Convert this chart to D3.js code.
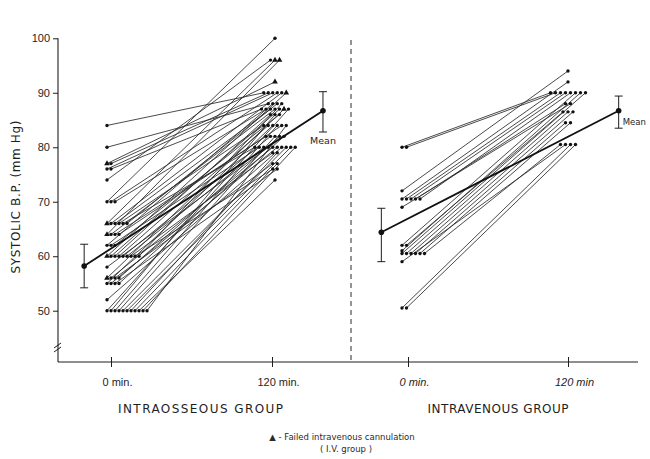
<!DOCTYPE html>
<html>
<head>
<meta charset="utf-8">
<script src="https://cdn.jsdelivr.net/npm/d3@7"></script>
<style>
  body { margin: 0; background: #fff; }
  svg { display: block; font-family: "DejaVu Sans", "Liberation Sans", sans-serif; }
  .pair { stroke: #2a2a2a; stroke-width: 0.85; fill: none; }
  .axis text { fill: #1e1e1e; font-size: 11px; }
  .axis line { stroke: #1e1e1e; stroke-width: 1; }
</style>
</head>
<body>
<div id="chart"></div>
<script>
// Systolic BP (mm Hg) at 0 min and 120 min, one entry per patient
const ioStart = [84, 80, 77, 77, 76, 76, 74, 70, 70, 70, 66, 66, 66, 66, 66, 64, 64, 64, 62, 62,
                 60, 60, 60, 60, 60, 60, 60, 60, 58, 56, 56, 56, 55, 55, 55, 52, 50, 50, 50, 50,
                 50, 50, 50, 50, 50, 66, 64, 62, 60, 56, 55, 50, 50];
const ioEnd   = [90, 88, 92, 90, 90, 87, 96, 100, 90, 87, 96, 90, 87, 84, 80, 96, 87, 82, 88, 80,
                 90, 87, 86, 84, 82, 80, 79, 76, 80, 87, 80, 77, 84, 80, 76, 80, 87, 86, 84, 82,
                 80, 80, 79, 77, 74, 88, 84, 86, 88, 82, 82, 80, 84];
// patients marked with a triangle (failed intravenous cannulation)
const ioFailed = [2, 10, 15, 20, 29];

const ivStart = [80, 80, 72, 70.5, 70.5, 70.5, 70.5, 70.5, 69, 62, 62, 61, 60.5, 60.5, 60.5, 60.5,
                 60.5, 60.5, 59, 50.5, 50.5];
const ivEnd   = [90, 90, 94, 92, 90, 90, 88, 90, 88, 90, 86.5, 90, 90, 86.5, 86.5, 84.5, 84.5,
                 80.5, 80.5, 80.5, 80.5];

// group means with bars, drawn beside the time points
const meanTimes = [-20, 158];
const ioMean = [58.2, 86.7], ioLow = [54.2, 82.8], ioHigh = [62.2, 90.2];
const ivMean = [64.4, 86.7], ivLow = [59.0, 83.5], ivHigh = [68.8, 89.4];

const yTicks = [50, 60, 70, 80, 90, 100];
const timeTicks = [0, 120];
const ioTimeLabels = ['0 min.', '120 min.'];
const ivTimeLabels = ['0 min.', '120 min'];

const width = 650, height = 459;
const axisX = 58, axisY = 362, divider = 351;

const svg = d3.select('#chart').append('svg')
    .attr('width', width)
    .attr('height', height);

const y = d3.scaleLinear().domain([50, 100]).range([310.7, 38.3]);
const ioX = d3.scaleLinear().domain([0, 120]).range([111, 272]);
const ivX = d3.scaleLinear().domain([0, 120]).range([408, 568]);

// side-by-side placement of equal readings
function rowIndex(vals) {
    const seen = new Map();
    return vals.map(v => { const k = seen.get(v) || 0; seen.set(v, k + 1); return k; });
}
function rowSize(vals) {
    const c = d3.rollup(vals, g => g.length, v => v);
    return vals.map(v => c.get(v));
}

function pairs(start, end, x, startPos, endPos) {
    const si = rowIndex(start), ei = rowIndex(end);
    const sn = rowSize(start), en = rowSize(end);
    return start.map((s, i) => ({
        i,
        x1: startPos(x(0), si[i], sn[i]), y1: y(s),
        x2: endPos(x(120), ei[i], en[i]), y2: y(end[i])
    }));
}

const ioData = pairs(ioStart, ioEnd, ioX,
    (t, k) => t - 4 + k * 4,
    (t, k, n) => t + 3 + (k - (n - 1) / 2) * 4.5);
const ivData = pairs(ivStart, ivEnd, ivX,
    (t, k) => t - 6 + k * 4.5,
    (t, k, n) => t + (k - (n - 1) / 2) * 5);

function drawGroup(data, failed) {
    const g = svg.append('g');
    g.selectAll('line.pair').data(data).enter().append('line')
        .attr('class', 'pair')
        .attr('x1', d => d.x1).attr('y1', d => d.y1)
        .attr('x2', d => d.x2).attr('y2', d => d.y2);
    const ends = data.flatMap(d => [
        { x: d.x1, y: d.y1, tri: failed.includes(d.i) },
        { x: d.x2, y: d.y2, tri: failed.includes(d.i) }
    ]);
    g.selectAll('.pt').data(ends).enter().append('path')
        .attr('class', 'pt')
        .attr('transform', d => `translate(${d.x},${d.y})`)
        .attr('d', d => d3.symbol().type(d.tri ? d3.symbolTriangle : d3.symbolCircle).size(d.tri ? 14 : 9)())
        .attr('fill', '#111');
}
drawGroup(ioData, ioFailed);
drawGroup(ivData, []);

function drawMean(x, mean, low, high, labelPos) {
    const g = svg.append('g');
    const pts = meanTimes.map((t, k) => ({ x: x(t), m: mean[k], lo: low[k], hi: high[k] }));
    g.append('line')
        .attr('x1', pts[0].x).attr('y1', y(pts[0].m))
        .attr('x2', pts[1].x).attr('y2', y(pts[1].m))
        .attr('stroke', '#111').attr('stroke-width', 1.8);
    pts.forEach(p => {
        g.append('line').attr('x1', p.x).attr('x2', p.x).attr('y1', y(p.lo)).attr('y2', y(p.hi))
            .attr('stroke', '#1e1e1e').attr('stroke-width', 1);
        [p.lo, p.hi].forEach(v => g.append('line')
            .attr('x1', p.x - 4).attr('x2', p.x + 4).attr('y1', y(v)).attr('y2', y(v))
            .attr('stroke', '#1e1e1e').attr('stroke-width', 1));
        g.append('circle').attr('cx', p.x).attr('cy', y(p.m)).attr('r', 2.8).attr('fill', '#111');
    });
    const last = pts[1];
    const below = labelPos === 'below';
    g.append('text')
        .attr('x', below ? last.x : last.x + 4)
        .attr('y', below ? y(last.lo) + 12 : y(last.m) + 14)
        .attr('text-anchor', below ? 'middle' : 'start')
        .attr('font-size', below ? 9.5 : 8.5).attr('fill', '#1e1e1e')
        .text('Mean');
}
drawMean(ioX, ioMean, ioLow, ioHigh, 'below');
drawMean(ivX, ivMean, ivLow, ivHigh, 'right');

// y axis
const yAxis = svg.append('g').attr('class', 'axis')
    .attr('transform', `translate(${axisX},0)`)
    .call(d3.axisLeft(y).tickValues(yTicks).tickSize(5).tickPadding(3));
yAxis.select('.domain').remove();
svg.append('line').attr('x1', axisX).attr('x2', axisX).attr('y1', y(100)).attr('y2', axisY)
    .attr('stroke', '#1e1e1e').attr('stroke-width', 1.1);
// axis break
[0, 4].forEach(o => svg.append('line')
    .attr('x1', axisX - 4).attr('y1', axisY - 14 + o)
    .attr('x2', axisX + 3).attr('y2', axisY - 19 + o)
    .attr('stroke', '#1e1e1e').attr('stroke-width', 1));

svg.append('text')
    .attr('transform', `translate(20,197) rotate(-90)`)
    .attr('text-anchor', 'middle')
    .attr('font-size', 12).attr('fill', '#1e1e1e')
    .attr('textLength', 153).attr('lengthAdjust', 'spacing')
    .text('SYSTOLIC  B.P.  (mm Hg)');

// x axis
svg.append('line').attr('x1', axisX).attr('x2', 638).attr('y1', axisY).attr('y2', axisY)
    .attr('stroke', '#1e1e1e').attr('stroke-width', 1.1);

function timeAxis(x, labels, italic) {
    const g = svg.append('g').attr('class', 'axis')
        .attr('transform', `translate(0,${axisY})`)
        .call(d3.axisBottom(x).tickValues(timeTicks).tickSize(5).tickPadding(11)
            .tickFormat((d, i) => labels[i]));
    g.select('.domain').remove();
    g.selectAll('.tick line').attr('y1', -5);
    g.selectAll('.tick text').attr('dx', 6).attr('font-style', italic ? 'italic' : null);
}
timeAxis(ioX, ioTimeLabels, false);
timeAxis(ivX, ivTimeLabels, true);

// divider between the groups
svg.append('line').attr('x1', divider).attr('x2', divider).attr('y1', 40).attr('y2', axisY)
    .attr('stroke', '#2a2a2a').attr('stroke-width', 1).attr('stroke-dasharray', '5,4');

const groupLabels = [
    { text: 'INTRAOSSEOUS  GROUP', x: ioX(60) + 9, len: 165 },
    { text: 'INTRAVENOUS  GROUP', x: ivX(60) + 10, len: 141 }
];
groupLabels.forEach(d => svg.append('text')
    .attr('x', d.x).attr('y', 413)
    .attr('text-anchor', 'middle').attr('font-size', 12).attr('fill', '#1e1e1e')
    .attr('textLength', d.len).attr('lengthAdjust', 'spacing')
    .text(d.text));

// legend
svg.append('text')
    .attr('x', 342).attr('y', 440)
    .attr('text-anchor', 'middle').attr('font-size', 8.5).attr('fill', '#2a2a2a')
    .text('\u25B2 -  Failed  intravenous  cannulation');
svg.append('text')
    .attr('x', 346).attr('y', 452)
    .attr('text-anchor', 'middle').attr('font-size', 8.5).attr('fill', '#2a2a2a')
    .text('( I.V. group )');
</script>
</body>
</html>
